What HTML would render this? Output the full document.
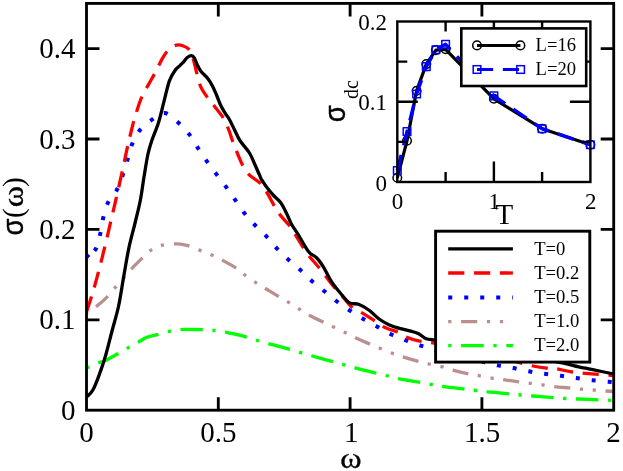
<!DOCTYPE html>
<html><head><meta charset="utf-8"><title>sigma(omega)</title>
<style>
html,body{margin:0;padding:0;background:#fff;}
body{width:623px;height:471px;overflow:hidden;}
svg{display:block;will-change:transform;}
text{font-family:"Liberation Serif",serif;fill:#000;}
.g{font-family:"Liberation Serif",serif;stroke:#000;stroke-width:0.35px;}
.s{font-family:"Liberation Sans",sans-serif;stroke:#000;stroke-width:0.45px;}
</style></head><body>
<svg width="623" height="471" viewBox="0 0 623 471">
<rect x="0" y="0" width="623" height="471" fill="#fff"/>
<defs><clipPath id="mc"><rect x="86.5" y="3.4" width="527.2" height="406.8"/></clipPath>
<clipPath id="ic"><rect x="391.3" y="15.5" width="205.1" height="172.5"/></clipPath></defs>
<g clip-path="url(#mc)" fill="none" stroke-linecap="butt" stroke-linejoin="round">
<path d="M86.5 368.1C88.4 367.2 94.8 364.3 98.0 363.0C101.2 361.7 102.5 361.9 105.7 360.4C108.9 358.9 113.7 356.1 117.3 354.0C120.9 351.9 124.2 350.0 127.6 348.1C131.0 346.2 134.6 344.2 137.8 342.4C141.0 340.6 143.6 338.6 146.8 337.3C150.0 336.0 153.4 335.7 157.1 334.7C160.8 333.7 164.8 332.2 168.7 331.4C172.6 330.5 176.7 329.9 180.3 329.6C183.9 329.3 186.9 329.5 190.5 329.5C194.1 329.5 198.2 329.5 202.1 329.6C206.0 329.7 209.8 329.9 213.7 330.3C217.5 330.7 220.9 331.3 225.2 332.1C229.5 332.9 235.8 334.4 239.4 335.2C243.0 336.0 243.8 336.3 246.7 337.2C249.6 338.1 253.3 339.3 257.0 340.4C260.6 341.5 263.0 342.2 268.6 343.7C274.2 345.2 285.0 347.9 290.4 349.4C295.8 350.9 297.0 351.6 300.7 352.7C304.4 353.8 306.9 354.5 312.3 356.0C317.7 357.5 327.5 360.2 332.8 361.7C338.1 363.2 340.5 363.7 344.4 364.8C348.3 365.9 350.6 366.7 356.0 368.1C361.4 369.5 371.1 372.0 376.5 373.3C381.9 374.6 384.4 375.1 388.1 376.0C391.8 376.9 393.1 377.6 398.5 378.7C403.9 379.8 415.0 381.5 420.6 382.5C426.2 383.5 428.3 384.0 432.0 384.6C435.7 385.2 437.5 385.6 443.0 386.4C448.5 387.2 459.3 388.5 464.9 389.2C470.5 389.9 472.6 390.1 476.4 390.5C480.2 390.9 481.9 391.2 487.5 391.8C493.1 392.4 504.2 393.5 509.9 394.0C515.6 394.5 517.8 394.7 521.6 395.0C525.5 395.3 527.5 395.6 533.0 396.0C538.5 396.4 548.8 397.3 554.3 397.7C559.8 398.1 561.9 398.3 565.8 398.5C569.6 398.7 571.8 398.8 577.4 399.0C583.0 399.2 593.2 399.7 599.2 399.9C605.2 400.1 611.3 400.3 613.7 400.4" stroke="#00ff00" stroke-width="3.30" stroke-dasharray="3.20 9.60 22.40 9.60"/>
<path d="M86.5 313.0C88.2 311.9 93.5 308.5 96.7 306.1C99.9 303.7 102.7 301.4 105.7 298.4C108.7 295.4 111.7 291.5 114.7 288.1C117.7 284.7 120.7 281.2 123.7 277.8C126.7 274.4 129.7 270.8 132.7 267.6C135.7 264.4 138.7 261.5 141.7 258.6C144.7 255.7 147.3 252.5 150.7 250.3C154.1 248.1 157.8 246.3 162.3 245.2C166.8 244.1 173.4 243.8 177.7 243.9C182.0 244.0 184.4 244.7 188.0 245.7C191.6 246.7 195.4 248.5 199.5 250.1C203.6 251.7 208.3 253.4 212.4 255.2C216.5 257.0 220.2 259.0 224.0 261.1C227.8 263.2 232.2 265.4 235.5 267.6C238.8 269.8 240.7 272.0 244.1 274.5C247.5 277.0 252.3 280.2 255.7 282.5C259.1 284.8 260.8 285.8 264.7 288.1C268.6 290.5 274.8 294.2 278.8 296.6C282.8 299.0 285.2 300.2 288.6 302.3C292.0 304.4 295.9 307.0 299.4 309.2C302.9 311.4 305.6 313.3 309.7 315.5C313.8 317.7 319.8 320.5 323.8 322.4C327.8 324.3 330.0 325.3 333.6 327.0C337.2 328.7 341.5 330.8 345.2 332.6C348.9 334.4 351.9 336.1 356.0 338.0C360.1 339.9 366.0 342.4 370.1 344.2C374.2 345.9 376.8 347.0 380.4 348.5C384.0 350.0 387.9 351.6 391.6 353.0C395.3 354.4 398.1 355.4 402.6 356.8C407.1 358.2 414.2 360.3 418.6 361.5C423.0 362.7 425.0 363.1 428.8 364.0C432.6 364.9 437.7 365.6 441.7 366.6C445.7 367.6 448.2 369.0 452.7 370.2C457.2 371.4 464.3 373.1 468.7 374.0C473.1 374.9 475.1 375.0 479.0 375.7C482.9 376.4 487.8 377.5 491.8 378.2C495.8 378.9 498.4 379.0 502.9 379.6C507.4 380.2 514.2 381.2 518.8 381.8C523.4 382.4 526.5 382.8 530.4 383.3C534.3 383.8 538.2 384.2 542.2 384.8C546.2 385.4 549.8 386.1 554.3 386.6C558.8 387.1 564.4 387.5 568.9 387.9C573.4 388.3 577.2 388.8 581.3 389.2C585.4 389.6 589.5 389.7 593.6 390.0C597.7 390.3 602.4 390.8 605.7 391.0C609.1 391.2 612.4 391.3 613.7 391.4" stroke="#bc8f8f" stroke-width="3.30" stroke-dashoffset="1.5" stroke-dasharray="3.22 9.65 16.09 9.65 3.22 9.65"/>
<path d="M82.6 261.6C83.2 261.0 84.2 260.2 86.5 258.0C88.8 255.8 93.9 252.5 96.2 248.3C98.5 244.2 99.2 238.2 100.4 233.1C101.6 228.0 102.0 222.7 103.3 217.6C104.6 212.5 105.8 207.0 108.1 202.3C110.4 197.6 114.7 193.8 117.2 189.2C119.7 184.6 121.2 179.7 122.9 174.7C124.6 169.7 126.0 164.4 127.6 159.3C129.1 154.2 130.2 148.7 132.2 143.9C134.2 139.1 136.3 134.5 139.6 130.5C142.9 126.5 147.8 122.6 152.0 119.7C156.2 116.8 160.4 112.5 164.8 113.0C169.2 113.5 174.4 119.2 178.5 122.8C182.6 126.4 186.1 130.2 189.3 134.4C192.5 138.6 194.8 143.2 197.7 147.7C200.6 152.1 203.6 156.7 206.7 161.1C209.8 165.5 213.0 169.6 216.2 173.9C219.4 178.2 222.9 182.5 226.0 186.8C229.1 191.1 232.0 195.3 235.0 199.6C238.0 203.9 240.9 208.7 244.1 212.8C247.3 217.0 250.8 220.7 254.4 224.5C258.1 228.3 262.4 232.0 266.0 235.9C269.6 239.8 272.7 243.9 276.3 247.8C279.9 251.7 283.9 255.5 287.8 259.1C291.7 262.7 295.9 266.0 299.9 269.6C303.9 273.2 307.7 277.4 311.7 280.9C315.7 284.4 319.7 287.3 323.8 290.7C327.9 294.1 332.0 297.8 336.2 301.0C340.4 304.2 344.6 307.1 349.0 310.0C353.4 312.9 357.8 315.8 362.4 318.5C367.0 321.2 371.8 323.6 376.5 326.2C381.2 328.8 386.0 331.9 390.8 334.2C395.6 336.5 400.4 338.2 405.2 340.1C410.0 342.0 414.9 343.7 419.8 345.3C424.7 346.9 429.5 348.2 434.5 349.6C439.5 351.0 444.8 352.2 450.0 353.5C455.2 354.8 460.7 356.2 466.0 357.5C471.3 358.8 476.7 360.2 482.0 361.5C487.3 362.8 492.5 364.3 497.7 365.4C502.9 366.5 508.0 367.0 513.2 368.0C518.4 369.0 523.5 370.3 528.8 371.3C534.0 372.3 539.4 373.1 544.7 373.8C550.0 374.6 555.5 375.1 560.7 375.8C565.9 376.5 570.8 377.2 576.1 377.9C581.4 378.6 586.9 379.6 592.3 380.2C597.6 380.8 604.6 381.4 608.2 381.7C611.8 382.0 612.8 382.1 613.7 382.2" stroke="#0000ff" stroke-width="4.00" stroke-dasharray="4.00 12.00"/>
<path d="M86.5 312.0C87.6 308.7 90.8 299.2 92.9 292.0C95.0 284.8 97.2 276.9 99.3 268.8C101.4 260.7 103.8 251.0 105.7 243.1C107.6 235.2 109.1 228.6 110.8 221.3C112.5 214.0 114.1 207.5 116.0 199.1C117.9 190.7 120.5 179.6 122.4 170.8C124.3 162.0 126.0 153.5 127.6 146.4C129.2 139.3 130.7 133.1 132.0 128.0C133.3 122.9 133.7 121.2 135.3 116.0C136.9 110.8 139.3 102.6 141.7 97.1C144.0 91.6 147.1 87.3 149.4 83.0C151.8 78.7 153.7 75.5 155.8 71.4C158.0 67.3 160.2 62.2 162.3 58.6C164.5 55.0 166.3 51.8 168.7 49.6C171.0 47.4 174.1 45.9 176.4 45.2C178.8 44.6 180.7 45.0 182.8 45.7C185.0 46.4 187.6 47.5 189.3 49.6C191.0 51.8 191.8 54.5 193.1 58.6C194.4 62.7 195.7 69.3 197.0 74.0C198.3 78.7 199.1 83.0 200.8 86.8C202.5 90.6 204.8 93.7 207.2 97.1C209.6 100.5 212.3 103.5 215.0 107.0C217.7 110.5 221.2 114.5 223.5 118.3C225.8 122.0 227.0 125.5 228.6 129.5C230.2 133.5 231.6 138.4 233.1 142.4C234.6 146.4 235.9 149.7 237.5 153.5C239.1 157.3 240.8 161.9 242.8 165.5C244.9 169.1 246.8 172.3 249.8 175.3C252.8 178.3 257.7 180.5 260.6 183.5C263.5 186.5 265.0 189.2 267.3 193.1C269.6 196.9 272.5 202.9 274.7 206.6C276.9 210.3 277.8 211.9 280.4 215.3C283.0 218.7 287.9 223.4 290.5 226.8C293.1 230.2 293.1 231.1 295.9 235.5C298.7 239.9 303.1 247.8 307.1 253.4C311.1 258.9 315.7 263.4 320.0 268.8C324.3 274.2 328.9 280.8 332.8 285.5C336.7 290.2 339.9 293.5 343.1 297.1C346.3 300.8 348.7 304.6 352.1 307.4C355.5 310.2 360.1 311.6 363.7 313.8C367.3 316.0 370.7 318.3 373.9 320.4C377.1 322.5 380.1 324.9 382.7 326.4C385.3 327.9 386.9 328.3 389.4 329.2C391.9 330.1 394.9 330.7 397.6 332.0C400.3 333.3 402.2 335.3 405.7 336.8C409.2 338.3 414.3 339.9 418.6 340.9C422.9 341.9 426.2 341.8 431.4 342.7C436.6 343.6 443.6 344.8 450.0 346.0C456.4 347.2 463.3 348.6 470.0 350.0C476.7 351.4 483.3 352.8 490.0 354.5C496.7 356.2 503.1 358.1 510.0 360.0C516.9 361.9 525.0 364.2 531.1 365.6C537.2 367.0 542.2 367.6 546.5 368.1C550.8 368.7 552.5 368.2 556.8 368.9C561.1 369.5 566.5 371.2 572.3 372.0C578.1 372.8 584.6 373.2 591.5 373.8C598.4 374.4 610.0 375.3 613.7 375.6" stroke="#ff0000" stroke-width="3.30" stroke-dasharray="16.12 9.68"/>
<path d="M86.5 397.2C87.6 396.0 90.8 393.8 92.9 390.0C95.0 386.2 97.2 380.4 99.3 374.6C101.4 368.8 103.6 362.6 105.7 355.3C107.8 348.0 109.9 339.0 112.1 330.8C114.2 322.6 116.7 315.0 118.6 306.0C120.5 297.0 122.0 286.2 123.7 276.6C125.4 267.0 126.9 257.4 128.8 248.3C130.7 239.2 133.4 230.1 135.3 222.0C137.2 213.9 138.9 207.8 140.4 200.0C141.9 192.2 143.0 182.8 144.3 175.0C145.6 167.2 146.8 159.3 148.1 153.5C149.4 147.7 150.2 145.2 152.0 140.0C153.8 134.8 156.6 128.8 158.7 122.0C160.8 115.2 162.7 106.2 164.5 99.4C166.3 92.6 167.6 85.9 169.3 81.1C171.1 76.3 173.2 73.1 175.0 70.5C176.8 67.9 178.5 67.0 179.9 65.6C181.3 64.1 182.4 63.2 183.7 61.8C185.0 60.4 186.3 58.2 187.6 57.2C188.9 56.2 190.3 55.5 191.4 55.6C192.5 55.7 193.3 56.4 194.3 57.9C195.3 59.4 196.1 62.5 197.2 64.7C198.3 67.0 199.3 69.1 201.1 71.4C202.9 73.7 205.9 75.9 207.8 78.4C209.7 80.9 211.2 83.4 212.6 86.2C214.0 89.0 215.2 92.0 216.5 95.0C217.8 98.0 218.9 101.5 220.3 104.5C221.7 107.5 223.6 110.7 225.1 113.2C226.6 115.7 227.8 116.7 229.3 119.3C230.8 121.9 232.3 125.4 234.1 128.9C235.9 132.4 237.3 136.5 239.9 140.5C242.5 144.5 246.9 148.8 249.5 153.0C252.1 157.2 253.6 161.8 255.3 165.5C257.0 169.2 258.4 172.7 259.5 175.0C260.6 177.3 260.1 177.2 261.6 179.6C263.1 182.0 266.2 186.6 268.3 189.3C270.4 192.0 272.0 193.8 274.1 196.0C276.2 198.2 278.7 199.9 280.8 202.8C282.9 205.7 284.8 209.9 286.6 213.4C288.4 216.9 289.5 220.5 291.4 224.0C293.3 227.5 295.9 230.8 298.2 234.5C300.4 238.2 303.0 243.0 304.9 246.1C306.8 249.2 307.7 250.9 309.7 252.9C311.7 254.9 314.4 255.6 316.8 258.0C319.2 260.4 321.4 263.7 323.8 267.6C326.2 271.6 328.7 277.4 331.5 281.7C334.3 286.0 337.5 289.8 340.5 293.3C343.5 296.8 346.5 301.0 349.5 302.8C352.5 304.6 355.3 303.1 358.5 304.3C361.7 305.5 365.4 307.6 368.8 310.0C372.2 312.4 375.7 316.5 379.1 319.0C382.5 321.5 385.8 323.3 389.4 324.9C393.0 326.5 397.0 327.6 400.6 328.6C404.2 329.6 407.8 330.2 410.8 331.1C413.8 332.0 416.0 332.4 418.6 333.7C421.2 335.0 423.5 337.7 426.3 338.8C429.1 339.9 431.4 339.4 435.3 340.1C439.2 340.8 444.2 341.9 450.0 343.0C455.8 344.1 463.3 345.7 470.0 347.0C476.7 348.3 483.3 349.8 490.0 351.0C496.7 352.2 503.3 353.4 510.0 354.5C516.7 355.6 523.3 356.5 530.0 357.5C536.7 358.5 544.0 359.6 550.0 360.6C556.0 361.6 561.0 362.7 565.8 363.7C570.6 364.7 574.4 365.9 578.7 366.8C583.0 367.8 585.7 368.2 591.5 369.4C597.3 370.6 610.0 373.2 613.7 374.0" stroke="#000" stroke-width="3.30"/>
<path d="M87.5 253.3L90.3 256.1L87.5 258.9Z" fill="#0000ff"/>
</g>
<g stroke="#000" stroke-width="2.85" fill="none" stroke-linecap="butt">
<rect x="86.5" y="3.4" width="527.2" height="406.8"/>
<path d="M218.3 410.2v-13.0M218.3 3.4v13.0"/>
<path d="M350.1 410.2v-13.0M350.1 3.4v13.0"/>
<path d="M481.9 410.2v-13.0M481.9 3.4v13.0"/>
<path d="M86.5 319.8h13.0M613.7 319.8h-13.0"/>
<path d="M86.5 229.4h13.0M613.7 229.4h-13.0"/>
<path d="M86.5 139.0h13.0M613.7 139.0h-13.0"/>
<path d="M86.5 48.6h13.0M613.7 48.6h-13.0"/>
</g>
<g font-size="29">
<text x="86.6" y="441.8" text-anchor="middle">0</text>
<text x="218.3" y="441.8" text-anchor="middle">0.5</text>
<text x="351.3" y="441.8" text-anchor="middle">1</text>
<text x="482.2" y="441.8" text-anchor="middle">1.5</text>
<text x="613.4" y="441.8" text-anchor="middle">2</text>
<text x="75.6" y="419.8" text-anchor="end">0</text>
<text x="75.6" y="329.4" text-anchor="end">0.1</text>
<text x="75.6" y="239.0" text-anchor="end">0.2</text>
<text x="75.6" y="148.6" text-anchor="end">0.3</text>
<text x="75.6" y="58.2" text-anchor="end">0.4</text>
</g>
<text class="g" transform="translate(350.8,467.6) scale(1.08,0.96)" font-size="30" text-anchor="middle">ω</text>
<text transform="translate(22.7,235.5) rotate(-90) scale(0.96,1.05)" font-size="28.5" class="s">σ</text>
<text transform="translate(22.7,218.0) rotate(-90)" font-size="29.0">(</text>
<text transform="translate(22.7,207.3) rotate(-90) scale(1.08,0.96)" font-size="30.0" class="g">ω</text>
<text transform="translate(22.7,186.9) rotate(-90)" font-size="29.0">)</text>
<rect x="397.3" y="21.5" width="193.1" height="160.5" fill="#fff"/>
<g fill="none" stroke-linecap="butt" stroke-linejoin="round">
<path d="M397.3 177.8L407.0 140.8L416.6 90.7L426.3 64.1L435.9 50.1L445.6 49.3L493.9 98.8L542.1 128.7L590.4 144.7" stroke="#000" stroke-width="3.2"/>
<circle cx="397.3" cy="177.8" r="4.3" stroke="#000" stroke-width="1.5"/>
<circle cx="407.0" cy="140.8" r="4.3" stroke="#000" stroke-width="1.5"/>
<circle cx="416.6" cy="90.7" r="4.3" stroke="#000" stroke-width="1.5"/>
<circle cx="426.3" cy="64.1" r="4.3" stroke="#000" stroke-width="1.5"/>
<circle cx="435.9" cy="50.1" r="4.3" stroke="#000" stroke-width="1.5"/>
<circle cx="445.6" cy="49.3" r="4.3" stroke="#000" stroke-width="1.5"/>
<circle cx="493.9" cy="98.8" r="4.3" stroke="#000" stroke-width="1.5"/>
<circle cx="542.1" cy="128.7" r="4.3" stroke="#000" stroke-width="1.5"/>
<circle cx="590.4" cy="144.7" r="4.3" stroke="#000" stroke-width="1.5"/>
<path d="M397.3 170.5L407.0 131.6L416.6 94.0L426.3 66.6L435.9 49.7L445.6 44.3L493.9 95.9L542.1 128.7L590.4 144.7" stroke="#0000ff" stroke-width="3.4" stroke-dasharray="16.15 9.69"/>
<rect x="393.5" y="166.7" width="7.6" height="7.6" stroke="#0000ff" stroke-width="1.5"/>
<rect x="403.2" y="127.8" width="7.6" height="7.6" stroke="#0000ff" stroke-width="1.5"/>
<rect x="412.8" y="90.2" width="7.6" height="7.6" stroke="#0000ff" stroke-width="1.5"/>
<rect x="422.5" y="62.8" width="7.6" height="7.6" stroke="#0000ff" stroke-width="1.5"/>
<rect x="432.1" y="45.9" width="7.6" height="7.6" stroke="#0000ff" stroke-width="1.5"/>
<rect x="441.8" y="40.5" width="7.6" height="7.6" stroke="#0000ff" stroke-width="1.5"/>
<rect x="490.1" y="92.1" width="7.6" height="7.6" stroke="#0000ff" stroke-width="1.5"/>
<rect x="538.3" y="124.9" width="7.6" height="7.6" stroke="#0000ff" stroke-width="1.5"/>
<rect x="586.6" y="140.9" width="7.6" height="7.6" stroke="#0000ff" stroke-width="1.5"/>
</g>
<g stroke="#000" stroke-width="2.40" fill="none">
<rect x="397.3" y="21.5" width="193.1" height="160.5"/>
<path d="M445.6 182.0v-10.0M445.6 21.5v10.0"/>
<path d="M493.9 182.0v-20.5M493.9 21.5v20.5"/>
<path d="M542.1 182.0v-10.0M542.1 21.5v10.0"/>
<path d="M397.3 141.9h10.0M590.4 141.9h-10.0"/>
<path d="M397.3 101.8h20.5M590.4 101.8h-20.5"/>
<path d="M397.3 61.6h10.0M590.4 61.6h-10.0"/>
</g>
<g font-size="23">
<text x="397.6" y="209.3" text-anchor="middle">0</text>
<text x="494.2" y="209.3" text-anchor="middle">1</text>
<text x="590.7" y="209.3" text-anchor="middle">2</text>
<text x="387.1" y="190.7" text-anchor="end">0</text>
<text x="387.1" y="109.9" text-anchor="end">0.1</text>
<text x="387.1" y="29.9" text-anchor="end">0.2</text>
</g>
<text x="504.4" y="224" font-size="29" text-anchor="middle">T</text>
<text transform="translate(345.3,122.3) rotate(-90) scale(0.96,1.05)" font-size="28.5" class="s">σ</text>
<text transform="translate(357.7,99.0) rotate(-90)" font-size="20.0">dc</text>
<rect x="461.3" y="28.4" width="124.9" height="57.6" fill="#fff" stroke="#000" stroke-width="2.6"/>
<g fill="none">
<path d="M477 45.4H520.4" stroke="#000" stroke-width="3"/>
<circle cx="477" cy="45.4" r="4.3" stroke="#000" stroke-width="1.5"/><circle cx="520.4" cy="45.4" r="4.3" stroke="#000" stroke-width="1.5"/>
<path d="M477 69.5H520.6" stroke="#0000ff" stroke-width="3.2" stroke-dasharray="16.15 9.69"/>
<rect x="473.2" y="65.7" width="7.6" height="7.6" stroke="#0000ff" stroke-width="1.5"/><rect x="516.8" y="65.7" width="7.6" height="7.6" stroke="#0000ff" stroke-width="1.5"/>
</g>
<g font-size="18.6"><text x="535.6" y="50.8">L=16</text><text x="535.6" y="75">L=20</text></g>
<rect x="435.6" y="231.2" width="154.2" height="130.9" fill="#fff" stroke="#000" stroke-width="2.9"/>
<g fill="none" stroke-linecap="butt">
<path d="M448.2 248.8H512.9" stroke="#000" stroke-width="3.30"/>
<path d="M448.2 273.0H512.9" stroke="#ff0000" stroke-width="3.30" stroke-dasharray="16.15 9.69"/>
<path d="M448.2 297.4H512.9" stroke="#0000ff" stroke-width="4.00" stroke-dasharray="4.00 12.00"/>
<path d="M448.2 321.6H512.3" stroke="#bc8f8f" stroke-width="3.30" stroke-dasharray="3.23 9.69 16.15 9.69 3.23 9.69"/>
<path d="M448.2 345.6H512.9" stroke="#00ff00" stroke-width="3.30" stroke-dasharray="3.23 9.69 22.61 9.69"/>
</g>
<g font-size="18.6">
<text x="534.2" y="255.1">T=0</text>
<text x="534.2" y="279.2">T=0.2</text>
<text x="534.2" y="303.3">T=0.5</text>
<text x="534.2" y="327.4">T=1.0</text>
<text x="534.2" y="351.4">T=2.0</text>
</g>
</svg></body></html>
